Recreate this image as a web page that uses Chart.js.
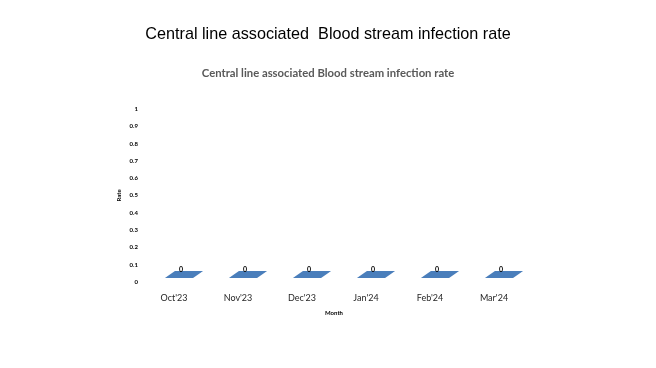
<!DOCTYPE html>
<html>
<head>
<meta charset="utf-8">
<script src="https://cdn.jsdelivr.net/npm/chart.js@4/dist/chart.umd.min.js"></script>
<style>
html,body{margin:0;padding:0;background:#fff;}
#wrap{width:656px;height:368px;}
</style>
</head>
<body>
<div id="wrap"><canvas id="c" width="656" height="368"></canvas></div>
<script>
const months = ["Oct'23", "Nov'23", "Dec'23", "Jan'24", "Feb'24", "Mar'24"];
const rates = [0, 0, 0, 0, 0, 0];
const yTicks = [0, 0.1, 0.2, 0.3, 0.4, 0.5, 0.6, 0.7, 0.8, 0.9, 1];
const mainTitle = "Central line associated  Blood stream infection rate";
const chartTitle = "Central line associated Blood stream infection rate";

const bar3d = {
  id: 'bar3d',
  afterDatasetsDraw(chart) {
    const ctx = chart.ctx;
    const meta = chart.getDatasetMeta(0);
    const ys = chart.scales.y;
    const zero = ys.getPixelForValue(0);
    ctx.save();
    meta.data.forEach((el, i) => {
      const shift = 5;
      const x = el.x + shift;
      const top = el.y;          // pixel of value
      const w = el.width;
      const lift = 4, dx = 10, dy = 7;
      const fl = x - w / 2, fr = x + w / 2;
      const fb = zero - lift, ft = top - lift;
      if (fb - ft > 0.5) {
        ctx.fillStyle = '#4a7ebb';
        ctx.fillRect(fl, ft, w, fb - ft);
        ctx.fillStyle = '#3c6aa3';
        ctx.beginPath();
        ctx.moveTo(fr, fb); ctx.lineTo(fr + dx, fb - dy); ctx.lineTo(fr + dx, ft - dy); ctx.lineTo(fr, ft);
        ctx.closePath(); ctx.fill();
      }
      ctx.fillStyle = '#4a7ebb';
      ctx.beginPath();
      ctx.moveTo(fl, ft);
      ctx.lineTo(fr, ft);
      ctx.lineTo(fr + dx, ft - dy);
      ctx.lineTo(fl + dx, ft - dy);
      ctx.closePath();
      ctx.fill();
      ctx.fillStyle = '#000';
      ctx.font = 'bold 7px Lato';
      ctx.textAlign = 'center';
      ctx.textBaseline = 'bottom';
      ctx.fillText(String(rates[i]), x + 2, ft - 5);
    });
    ctx.restore();
  }
};

new Chart(document.getElementById('c'), {
  type: 'bar',
  data: {
    labels: months,
    datasets: [{
      label: 'Rate',
      data: rates,
      backgroundColor: 'rgba(0,0,0,0)',
      borderWidth: 0,
      categoryPercentage: 0.44,
      barPercentage: 1
    }]
  },
  plugins: [bar3d],
  options: {
    responsive: false,
    animation: false,
    devicePixelRatio: 1,
    layout: { padding: { left: 0, right: 0, top: 0, bottom: 0 } },
    plugins: {
      legend: { display: false },
      tooltip: { enabled: false },
      title: {
        display: true,
        text: mainTitle,
        color: '#000',
        font: { family: 'Liberation Sans, Arial', size: 16.2, weight: 'normal', lineHeight: 1.2 },
        padding: { top: 25, bottom: 22 }
      },
      subtitle: {
        display: true,
        text: chartTitle,
        color: '#595959',
        font: { family: 'Lato', size: 11.3, weight: 'bold', lineHeight: 1.2 },
        padding: { top: 0, bottom: 29 }
      }
    },
    scales: {
      x: {
        grid: { display: false, drawTicks: false },
        border: { display: false },
        ticks: { color: '#262626', font: { family: 'Lato', size: 9 }, padding: 11, maxRotation: 0 },
        title: {
          display: true, text: 'Month', color: '#000',
          font: { family: 'Lato', size: 6, weight: 'bold', lineHeight: 1.2 },
          padding: { top: 0, bottom: 51 }
        },
        afterFit(s) { s.height = 86; }
      },
      y: {
        min: 0, max: 1,
        afterBuildTicks(s) { s.ticks = yTicks.map(v => ({ value: v })); },
        grid: { display: false, drawTicks: false },
        border: { display: false },
        ticks: { color: '#000', font: { family: 'Lato', size: 6, weight: 'bold' }, padding: 4,
                 callback: (v) => String(v) },
        title: {
          display: true, text: 'Rate', color: '#000',
          font: { family: 'Lato', size: 6, weight: 'bold', lineHeight: 1.2 },
          padding: { top: 115, bottom: 0 }
        },
        afterFit(s) { s.width = 142; }
      },
      spacer: {
        type: 'linear',
        position: 'right',
        display: true,
        grid: { display: false, drawTicks: false },
        border: { display: false },
        ticks: { display: false },
        afterFit(s) { s.width = 130; }
      }
    }
  }
});
</script>
</body>
</html>
